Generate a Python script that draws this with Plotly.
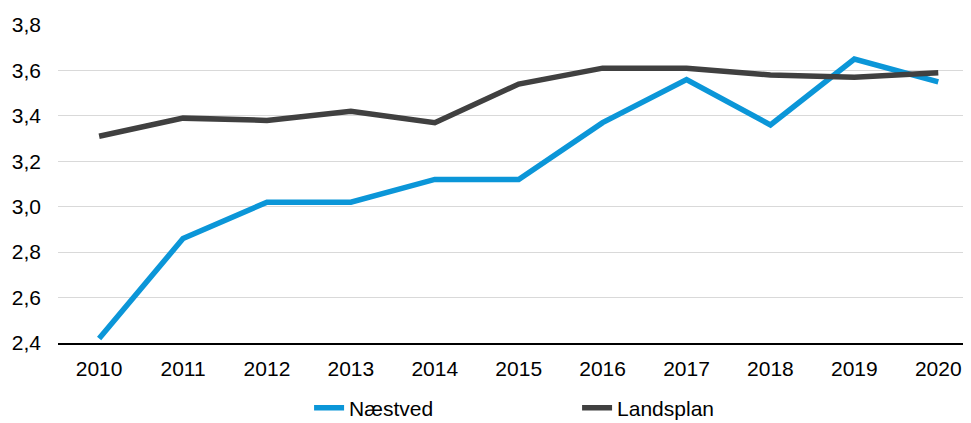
import plotly.graph_objects as go

years = [2010, 2011, 2012, 2013, 2014, 2015, 2016, 2017, 2018, 2019, 2020]
naestved = [2.42, 2.86, 3.02, 3.02, 3.12, 3.12, 3.37, 3.56, 3.36, 3.65, 3.55]
landsplan = [3.31, 3.39, 3.38, 3.42, 3.37, 3.54, 3.61, 3.61, 3.58, 3.57, 3.59]
y_ticks = [2.4, 2.6, 2.8, 3.0, 3.2, 3.4, 3.6, 3.8]
y_labels = ["2,4", "2,6", "2,8", "3,0", "3,2", "3,4", "3,6", "3,8"]

fig = go.Figure()
fig.add_trace(go.Scatter(x=years, y=naestved, mode="lines", name="Næstved",
                         line=dict(color="#0B96D8", width=5.5)))
fig.add_trace(go.Scatter(x=years, y=landsplan, mode="lines", name="Landsplan",
                         line=dict(color="#404040", width=5.5)))

# page body adds an 8px offset, margins compensate for it
fig.update_layout(
    width=971, height=423,
    margin=dict(l=50, r=8, t=17, b=88, autoexpand=False),
    plot_bgcolor="white", paper_bgcolor="white",
    font=dict(family="Liberation Sans, Arial", size=21, color="#000000"),
    xaxis=dict(range=[2009.51, 2020.39], tickvals=years, ticktext=[str(y) for y in years],
               showgrid=False, showline=True, linecolor="#000000", linewidth=2,
               ticks="", ticklabelstandoff=6, zeroline=False, automargin=False),
    yaxis=dict(range=[2.4, 3.8], tickvals=y_ticks, ticktext=y_labels,
               showgrid=True, gridcolor="#D9D9D9", gridwidth=1,
               showline=False, zeroline=False, ticks="", ticklabelstandoff=16,
               automargin=False),
    legend=dict(orientation="h", x=0.275, y=-0.14, xanchor="left", yanchor="top",
                entrywidth=223, entrywidthmode="pixels",
                font=dict(size=21), bgcolor="rgba(0,0,0,0)"),
)

fig.write_html("out.html")
